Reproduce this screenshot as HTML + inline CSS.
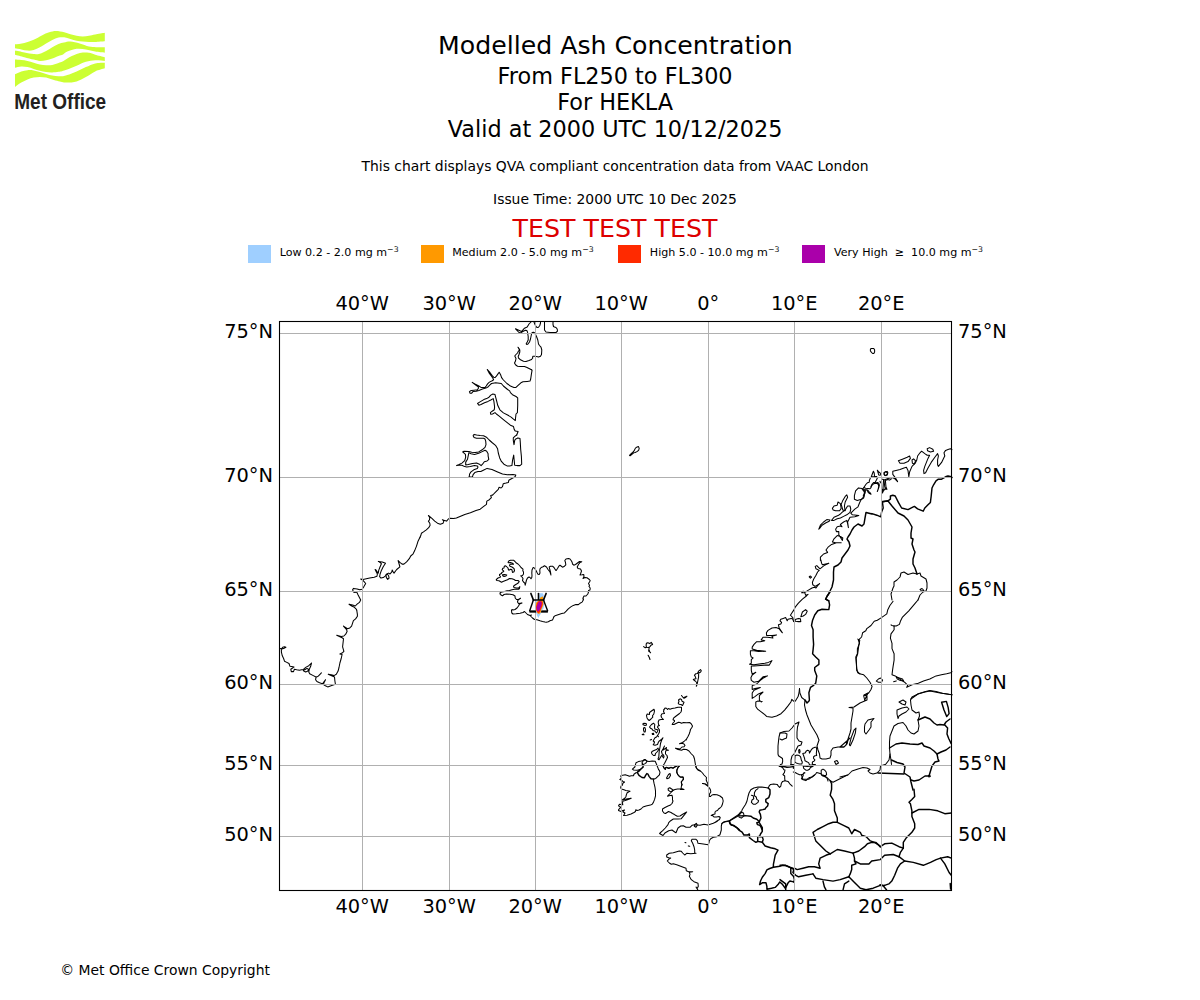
<!DOCTYPE html>
<html><head><meta charset="utf-8">
<style>
html,body{margin:0;padding:0;background:#fff;width:1200px;height:1000px;overflow:hidden}
svg{position:absolute;left:0;top:0;display:block}
text{font-family:"DejaVu Sans","Liberation Sans",sans-serif;fill:#000}
.t1{font-size:25.2px}
.t2{font-size:22.35px}
.t3{font-size:13.9px}
.lg{font-size:11.1px}
.ax{font-size:19.4px}
.grid path{stroke:#b0b0b0;stroke-width:1;fill:none}
.coast .b{stroke-width:1.45}
.coast{fill:none;stroke:#000;stroke-width:1.05;stroke-linejoin:round;stroke-linecap:round}
</style></head><body>
<svg width="1200" height="1000" viewBox="0 0 1200 1000">
<!-- LOGO -->
<g id="logo">
<path fill="#ccff33" d="M15.0,44.3 C16.6,44.1 21.3,43.6 24.4,42.9 C27.5,42.1 30.8,41.0 33.7,39.8 C36.6,38.5 39.2,36.6 41.8,35.4 C44.4,34.1 46.8,33.0 49.2,32.3 C51.6,31.6 53.5,31.0 56.0,31.0 C58.5,31.0 61.8,31.7 64.2,32.2 C66.6,32.7 68.3,33.6 70.4,34.2 C72.5,34.8 74.5,35.4 76.6,35.8 C78.7,36.2 80.7,36.4 82.8,36.4 C84.9,36.4 86.9,36.1 89.0,35.8 C91.1,35.5 92.6,35.0 95.2,34.5 C97.8,34.0 103.2,33.0 104.8,32.7 L104.8,41.3 C103.2,41.4 97.8,41.9 95.2,42.0 C92.6,42.1 91.1,42.1 89.0,42.0 C86.9,41.9 84.9,41.8 82.8,41.6 C80.7,41.4 78.7,41.2 76.6,40.7 C74.5,40.2 72.5,39.5 70.4,38.9 C68.3,38.3 66.2,37.5 64.2,37.3 C62.2,37.1 60.5,37.1 58.5,37.6 C56.5,38.1 54.4,39.1 52.3,40.1 C50.2,41.1 48.2,42.3 46.1,43.5 C44.0,44.7 42.0,46.1 39.9,47.2 C37.8,48.3 35.8,49.4 33.7,50.0 C31.6,50.6 29.6,50.7 27.5,50.6 C25.4,50.5 23.4,49.8 21.3,49.4 C19.2,49.0 16.1,48.4 15.0,48.2 Z M15.0,50.6 C16.6,50.9 21.3,51.9 24.4,52.5 C27.5,53.1 31.1,53.9 33.7,54.1 C36.3,54.3 37.8,54.2 39.9,53.7 C42.0,53.2 44.0,52.1 46.1,51.0 C48.2,49.9 50.2,48.4 52.3,47.2 C54.4,46.0 56.5,44.8 58.5,44.0 C60.5,43.2 62.0,43.0 64.0,42.6 C66.0,42.2 67.8,41.5 70.4,41.6 C73.0,41.8 76.6,42.7 79.7,43.5 C82.8,44.3 86.3,46.0 89.0,46.6 C91.7,47.2 93.4,47.1 96.0,47.2 C98.6,47.3 103.3,47.2 104.8,47.2 L104.8,52.8 C103.2,52.6 98.3,52.2 95.2,51.6 C92.1,51.0 89.0,49.9 85.9,49.4 C82.8,48.9 79.7,48.4 76.6,48.8 C73.5,49.2 69.6,50.6 67.3,51.6 C65.0,52.6 64.5,53.8 63.0,54.5 C61.5,55.2 60.3,55.2 58.5,55.9 C56.7,56.5 54.4,57.7 52.3,58.4 C50.2,59.1 48.2,59.9 46.1,60.3 C44.0,60.7 42.0,61.0 39.9,60.9 C37.8,60.8 36.3,60.2 33.7,59.6 C31.1,59.0 27.5,58.0 24.4,57.2 C21.3,56.4 16.6,55.1 15.0,54.7 Z M15.0,59.6 C16.1,59.7 19.2,59.8 21.3,60.0 C23.4,60.2 25.4,60.4 27.5,60.9 C29.6,61.4 31.6,62.1 33.7,62.7 C35.8,63.3 37.8,64.2 39.9,64.6 C42.0,65.0 44.0,65.2 46.1,65.2 C48.2,65.2 50.2,65.3 52.3,64.9 C54.4,64.5 56.8,63.6 58.5,63.0 C60.2,62.4 61.0,62.3 62.5,61.5 C64.0,60.7 65.0,59.6 67.3,58.4 C69.6,57.2 74.0,55.1 76.6,54.1 C79.2,53.1 80.7,52.7 82.8,52.5 C84.9,52.3 86.9,52.4 89.0,52.8 C91.1,53.2 92.6,54.0 95.2,54.7 C97.8,55.4 103.2,56.8 104.8,57.2 L104.8,60.9 C103.2,60.8 98.3,60.1 95.2,60.3 C92.1,60.4 89.0,60.9 85.9,61.8 C82.8,62.7 79.7,64.5 76.6,65.8 C73.5,67.1 69.7,68.7 67.3,69.6 C64.9,70.5 63.5,70.8 62.0,71.2 C60.5,71.6 60.1,71.5 58.5,71.7 C56.9,71.9 54.4,72.4 52.3,72.4 C50.2,72.5 48.2,72.3 46.1,72.0 C44.0,71.7 42.0,71.3 39.9,70.8 C37.8,70.3 35.8,69.5 33.7,68.9 C31.6,68.3 29.6,67.5 27.5,67.1 C25.4,66.7 23.4,66.4 21.3,66.5 C19.2,66.6 16.1,67.5 15.0,67.7 Z M15.0,74.2 C16.1,73.7 19.2,72.1 21.3,71.4 C23.4,70.7 25.4,70.4 27.5,70.2 C29.6,70.0 31.6,70.2 33.7,70.5 C35.8,70.8 37.8,71.4 39.9,72.0 C42.0,72.6 44.0,73.3 46.1,73.9 C48.2,74.5 50.2,75.1 52.3,75.5 C54.4,75.9 56.7,76.1 58.5,76.2 C60.3,76.3 61.5,76.4 63.0,76.2 C64.5,76.0 65.0,75.9 67.3,75.1 C69.6,74.3 73.5,72.7 76.6,71.4 C79.7,70.1 82.8,68.4 85.9,67.1 C89.0,65.8 92.1,64.1 95.2,63.4 C98.3,62.7 103.2,62.8 104.8,62.7 L104.8,68.3 C103.2,68.8 98.3,70.0 95.2,71.4 C92.1,72.9 89.0,75.3 85.9,77.0 C82.8,78.7 79.7,80.5 76.6,81.4 C73.5,82.3 69.6,82.5 67.3,82.6 C65.0,82.7 64.5,82.4 63.0,82.2 C61.5,82.0 60.3,81.7 58.5,81.2 C56.7,80.8 54.4,80.1 52.3,79.5 C50.2,78.9 48.2,78.0 46.1,77.6 C44.0,77.2 42.0,77.0 39.9,77.0 C37.8,77.0 35.8,77.2 33.7,77.6 C31.6,78.0 29.6,78.7 27.5,79.5 C25.4,80.3 23.4,81.4 21.3,82.6 C19.2,83.8 16.1,86.2 15.0,86.9 Z"/>
<text x="14.2" y="109.4" textLength="92" lengthAdjust="spacingAndGlyphs" style="font-family:'Liberation Sans','DejaVu Sans',sans-serif;font-weight:bold;font-size:21.6px;fill:#231f20">Met Office</text>
</g>
<!-- TITLES -->
<text class="t1" x="615.4" y="53.8" text-anchor="middle">Modelled Ash Concentration</text>
<text class="t2" x="615.1" y="83.5" text-anchor="middle">From FL250 to FL300</text>
<text class="t2" x="615.1" y="110" text-anchor="middle">For HEKLA</text>
<text class="t2" x="615.1" y="136.7" text-anchor="middle">Valid at 2000 UTC 10/12/2025</text>
<text class="t3" x="615" y="171.2" text-anchor="middle">This chart displays QVA compliant concentration data from VAAC London</text>
<text class="t3" x="615" y="204.2" text-anchor="middle">Issue Time: 2000 UTC 10 Dec 2025</text>
<text class="t1" x="615" y="237.3" text-anchor="middle" style="fill:#dd0000;font-size:25.3px">TEST TEST TEST</text>
<!-- LEGEND -->
<rect x="248" y="245" width="23" height="18" fill="#9fcfff"/>
<text class="lg" x="279.7" y="256">Low 0.2 - 2.0 mg m<tspan dy="-4" font-size="7.8">−3</tspan></text>
<rect x="421" y="245" width="23" height="18" fill="#ff9900"/>
<text class="lg" x="452.2" y="256">Medium 2.0 - 5.0 mg m<tspan dy="-4" font-size="7.8">−3</tspan></text>
<rect x="618" y="245" width="23" height="18" fill="#ff2a00"/>
<text class="lg" x="649.8" y="256">High 5.0 - 10.0 mg m<tspan dy="-4" font-size="7.8">−3</tspan></text>
<rect x="802" y="245" width="23" height="18" fill="#aa00aa"/>
<text class="lg" x="834" y="256">Very High&#160; ≥&#160; 10.0 mg m<tspan dy="-4" font-size="7.8">−3</tspan></text>
<!-- MAP -->
<g class="coast" id="coast">
<path d="M864.7,700.0 868.0,693.0 864.0,695.0 867.0,696.0 867.0,700.0 860.0,703.0 854.0,707.0 849.0,707.5 853.0,708.0 853.0,711.0 852.0,717.0 851.0,723.0 851.0,729.0 850.0,733.0 848.0,739.0 846.0,745.0 844.0,747.0 840.0,747.0 848.0,740.0 850.0,738.0"/>
<path d="M849.4,744.8 851.2,737.6 854.2,729.8 856.0,728.0 855.4,732.8 853.0,740.0 850.3,745.8Z"/>
<path d="M865.0,724.0 868.0,720.0 874.0,718.5 871.0,722.0 871.0,727.0 869.0,730.0 866.0,734.0 864.5,732.0 864.5,727.0Z"/>
<path d="M899.0,702.0 903.0,700.0 906.0,702.0 905.0,705.0 902.0,704.0Z"/>
<path d="M897.0,710.0 902.0,708.0 907.0,707.0 909.0,709.0 906.0,712.0 902.0,714.0 899.0,716.0 898.0,718.5 897.0,714.0Z"/>
<path d="M952.0,694.8 940.0,693.0 930.0,691.0 925.0,692.0 918.0,694.0 912.0,697.0 910.5,700.0 911.0,705.0 912.0,710.0 916.0,713.0 919.0,712.0 919.5,716.0 918.0,720.0 919.0,726.0 918.0,731.0 914.0,734.0 911.0,733.0 908.0,730.0 906.0,726.0 903.0,722.5 898.0,723.5 894.0,726.0 892.0,731.0 890.0,736.0 889.5,742.0 889.5,748.0 890.0,754.0 891.0,760.0 891.5,764.5"/>
<path d="M890.0,754.0 889.0,760.0 885.5,764.5"/>
<path class="b" d="M918.0,720.0 925.0,717.0 930.0,719.0 934.0,723.0 937.0,725.0 940.0,724.5 944.0,725.0 946.0,722.0 950.0,719.0"/>
<path class="b" d="M889.5,748.0 896.0,744.0 902.0,743.0 910.0,744.0 918.0,744.5 922.0,743.0 924.0,746.0 930.0,748.0 934.0,751.0 937.0,754.0 941.0,752.0 946.0,750.0 950.0,747.0"/>
<path class="b" d="M937.0,754.0 938.0,759.0 939.0,761.0 935.0,762.0 932.0,766.0 930.5,771.0 929.0,776.0 925.0,776.0 922.0,778.0 919.0,780.0 914.0,781.0 911.0,780.0"/>
<path class="b" d="M891.5,760.0 897.0,762.5 903.0,764.0 905.0,767.0 904.0,773.0 910.0,777.0 911.0,782.0 913.0,790.0"/>
<path class="b" d="M878.0,773.0 904.0,774.0"/>
<path d="M840.0,777.0 848.0,775.0 852.0,771.0 858.0,769.0 863.0,767.5 867.0,768.0 870.0,769.5 868.0,771.0 870.0,773.0 873.0,774.0 877.0,773.0 880.0,770.0 880.5,766.0 885.0,764.5"/>
<path d="M834.5,761.5 837.0,760.5 838.5,763.0 836.0,764.5Z"/>
<path class="b" d="M944.6,724.7 947.6,728.0 947.0,734.0 948.8,738.8 951.2,743.6"/>
<path d="M928.4,775.4 929.9,775.2 930.3,776.6 928.9,777.0Z"/>
<path class="b" d="M941.6,702.2 946.4,701.4 948.2,707.6 949.1,713.6 946.7,716.6 944.0,710.0Z"/>
<path d="M740.0,814.7 738.0,816.0 733.3,818.7 729.3,821.0 724.7,822.0 722.0,823.3 721.3,826.0 721.3,830.0 720.0,834.7 716.7,836.7 713.3,837.3 710.7,838.7 709.3,840.7 709.0,842.7 708.0,844.7 703.3,844.0 698.0,843.3 697.3,840.7 696.0,839.3 692.0,839.3 691.3,840.7 692.7,843.3 694.0,846.7 694.7,850.0 694.7,853.3 696.0,853.3 690.7,853.7 686.7,853.3 684.7,855.0 682.7,853.0 681.3,851.3 679.3,851.0 676.7,851.7 673.3,852.7 669.3,853.3 666.7,855.0 666.7,857.0 668.7,857.7 670.7,858.0 668.7,859.3 667.3,861.0 669.3,863.0 671.3,864.3 673.3,863.7 676.7,864.7 680.0,866.0 683.3,867.3 686.0,868.3 686.3,870.7 688.7,871.7 692.7,871.7 689.3,872.3 690.0,874.3 689.3,876.3 691.3,879.7 694.0,881.7 698.0,883.3 698.3,886.3 697.3,888.3 696.0,887.0 698.0,890.3"/>
<path d="M685.0,842.5 685.9,842.8"/>
<path d="M688.3,845.9 689.7,846.3"/>
<path class="b" d="M729.5,820.8 730.0,823.0 731.0,825.0 734.0,825.5 736.0,827.0 738.0,828.5 739.5,830.0"/>
<path d="M721.5,824.0 723.5,822.0 726.5,821.2 729.5,820.8 732.0,819.0 735.0,817.0 738.0,815.0 739.5,814.0 741.5,812.5 742.0,810.0 743.5,807.5 745.5,804.5 747.0,801.0 748.0,796.5 749.0,793.0 750.8,789.8 753.8,788.0 758.0,787.1 761.6,787.1 765.2,787.4 768.2,788.0 769.4,785.6 770.6,784.4 773.6,784.1 777.2,784.4 778.4,786.2 779.6,787.4 780.8,786.2 781.4,783.2 782.6,781.4 785.0,780.8 784.7,778.4 784.7,776.0 782.9,774.5 784.4,772.7 785.0,770.0 783.9,769.8 782.5,767.5 780.7,766.6 779.4,766.2 780.7,764.4 782.1,763.9 782.7,761.2 782.5,758.5 780.7,757.2 778.5,755.8 778.0,754.0 778.0,746.0 778.5,741.0 779.0,737.0 780.0,733.0 784.0,731.5 789.0,731.0 792.0,728.0 795.0,724.0 799.0,722.0 797.5,727.0 797.0,732.0 797.0,738.0 799.0,741.0 802.0,742.0 801.0,745.0 798.0,746.0 796.0,750.0 794.0,754.0 792.0,756.0 791.0,760.0 791.0,764.0 790.6,764.6 792.9,764.4 793.8,764.8 793.3,766.2 793.8,767.5 793.3,768.4"/>
<path d="M785.0,780.8 788.0,781.4 789.8,783.8 792.2,786.2"/>
<path d="M780.0,733.0 785.0,733.0 787.0,734.0 786.5,738.0 784.0,739.0 782.0,740.0 780.0,739.0"/>
<path d="M795.1,755.8 796.9,755.1 799.2,755.6 800.5,756.7 801.0,758.5 801.4,760.3 802.3,762.1 801.9,763.9 799.6,763.9 797.4,763.5 795.6,762.6 794.7,761.7 794.9,758.5Z"/>
<path d="M798.7,750.0 799.6,749.5 800.1,751.3 799.6,753.1 798.9,752.7Z"/>
<path d="M802.8,753.6 805.0,753.1 806.4,750.9 807.7,750.2 809.1,750.9 809.5,753.1 810.9,750.4 812.7,748.2 814.9,747.3 816.3,747.3 816.7,749.5 816.3,754.0 816.7,755.4 814.9,755.8 813.6,756.7 813.6,758.5 814.9,759.9 814.0,761.2 812.7,761.7 812.2,763.0 812.7,764.4 815.4,764.6 812.2,765.0 809.5,764.8 808.6,762.6 806.8,761.7 805.0,760.8 804.6,758.5 803.7,755.8Z"/>
<path d="M803.2,766.2 803.7,768.4 805.9,770.2 807.7,770.2 809.5,769.3 810.4,767.5 813.1,766.2 809.5,766.2 807.3,766.6 805.0,766.2Z"/>
<path d="M793.3,772.0 795.1,772.5 797.4,773.8 799.6,774.7 801.4,774.7 802.8,774.3 804.1,772.5 805.0,772.9 803.2,773.8 803.2,775.6 802.3,777.4 801.4,778.8 803.2,779.7 805.9,780.6 807.7,778.8 809.5,777.4 812.2,777.0 814.0,775.6 815.8,773.8 816.7,772.5 818.5,772.9 820.8,773.8 822.1,775.6 824.4,776.5 826.6,777.4 827.5,779.2 828.0,781.0"/>
<path d="M821.2,770.2 823.0,769.1 824.8,770.2 826.2,772.0 826.6,774.7 825.3,775.6 822.6,775.6 821.2,773.8Z"/>
<path d="M751.4,795.2 753.2,795.8 753.8,798.8 752.0,800.0 751.4,802.4 753.2,804.2 755.6,804.2 758.0,802.4 758.6,800.6 756.8,799.4 756.2,797.0 754.4,795.8 754.4,792.8 755.6,790.4 758.0,788.6"/>
<path class="b" d="M768.2,788.0 770.0,789.8 770.0,794.0 768.8,797.6 765.8,799.4 765.8,801.8 768.2,803.6 767.6,806.0 765.8,807.8 765.2,809.0 762.8,809.6 759.8,810.2 759.2,812.0 760.4,814.4 761.0,818.0 759.8,820.4 759.2,822.2 756.8,822.8 757.4,824.6 759.8,825.2 761.0,827.0 762.2,830.0"/>
<path class="b" d="M740.0,815.9 745.4,815.6 750.8,816.2 753.2,818.0 756.8,819.2 759.2,821.6"/>
<path class="b" d="M779.4,766.4 782.5,766.6 784.8,766.8 787.0,767.3 789.7,767.1 792.9,766.6 793.8,767.1"/>
<path d="M738.5,814.7 740.7,811.9 743.5,813.0 744.1,815.8 741.3,818.1 739.0,817.0Z"/>
<path d="M823.0,775.0 827.3,777.9 830.2,780.7 833.0,782.2 847.4,775.0"/>
<path class="b" d="M830.2,780.7 831.6,783.6 831.6,789.3 830.2,795.1 833.0,799.4 834.5,803.7 834.5,810.8 837.3,818.0 837.3,822.3"/>
<path class="b" d="M837.3,822.3 833.0,822.3 828.7,823.7 823.0,826.6 817.3,829.5 813.0,832.3 814.4,836.6 815.8,840.9 820.1,845.2 825.9,851.0 830.2,853.8"/>
<path class="b" d="M837.3,822.3 844.5,825.9 848.8,828.0 851.7,833.8 854.5,829.5 860.3,832.3 861.7,835.2 866.0,836.6 870.3,840.9 874.6,842.4 878.9,845.2 880.3,846.7"/>
<path class="b" d="M830.2,853.8 837.3,849.5 844.5,851.0 853.1,853.1"/>
<path class="b" d="M853.1,853.1 858.8,851.0 864.6,846.7 867.4,843.8 871.7,842.4 876.0,842.4 880.3,846.7"/>
<path class="b" d="M880.3,846.7 884.6,843.8 891.8,843.1 899.0,846.7 903.3,848.1"/>
<path class="b" d="M903.3,848.1 903.3,842.4 906.1,838.1 911.9,832.3 914.7,828.0 914.7,823.7 911.9,816.6 911.9,810.8 910.4,803.7 909.0,802.2 911.9,799.4 914.7,796.5 914.0,789.3"/>
<path class="b" d="M911.9,813.0 919.0,809.4 929.1,809.4 937.7,810.8 944.8,813.7 951.3,813.0"/>
<path class="b" d="M854.5,861.0 860.3,863.9 868.9,863.9 871.7,861.0 880.3,859.6 884.6,855.3 893.2,854.5 899.0,856.7"/>
<path class="b" d="M903.3,848.1 900.4,852.4 899.0,856.7"/>
<path class="b" d="M853.1,853.1 854.5,858.1 854.5,861.0 856.0,863.9 851.7,865.3 851.7,869.6 850.2,873.9 848.8,876.8"/>
<path class="b" d="M899.0,856.7 904.7,861.0 900.4,863.9 897.5,868.2 894.7,875.3 891.8,881.1 888.9,883.9 884.6,885.4"/>
<path class="b" d="M904.7,861.0 913.3,862.4 923.3,865.3 930.5,862.4 936.2,859.6 940.5,858.1 947.7,856.7 951.3,858.1"/>
<path class="b" d="M940.5,858.1 944.8,863.9 949.1,872.5 951.3,875.3"/>
<path class="b" d="M830.2,853.8 825.9,855.3 820.1,858.1 818.7,863.9 820.1,868.2 814.4,866.7 808.7,866.7 802.9,868.2 797.2,869.6 794.3,868.2"/>
<path class="b" d="M813.0,873.9 815.8,878.2 823.0,879.6 833.0,881.1 840.2,879.6 848.8,876.8"/>
<path class="b" d="M794.3,868.2 792.9,872.5 795.8,875.3 798.6,876.8 805.8,875.3 813.0,873.9"/>
<path class="b" d="M823.0,881.1 824.4,886.8 825.9,889.7"/>
<path class="b" d="M848.8,876.8 854.5,882.5 860.3,888.2 866.0,889.7"/>
<path class="b" d="M866.0,889.7 873.2,888.2 880.3,885.4 884.6,885.4"/>
<path class="b" d="M843.1,889.7 844.5,883.9 848.8,881.1"/>
<path class="b" d="M780.0,865.3 785.7,865.3 791.5,868.2 794.3,868.9"/>
<path class="b" d="M780.0,879.6 785.7,883.9 785.7,889.7"/>
<path d="M801.5,775.0 802.9,779.3 808.7,779.3 814.4,775.0"/>
<path class="b" d="M880.0,884.8 882.9,885.5 886.5,889.8"/>
<path class="b" d="M950.2,883.4 950.6,889.1"/>
<path class="b" d="M729.2,821.2 730.1,823.9 733.8,825.8 736.6,827.6 739.3,830.4 742.1,832.2 743.9,835.0 747.6,835.0 749.4,834.0 749.4,837.7 753.1,840.5 755.9,842.3 757.7,841.4 762.3,842.3 765.1,846.0 770.6,847.8 775.2,848.8 778.0,850.1 775.2,855.2 774.3,859.8 773.4,864.4 773.4,867.2"/>
<path class="b" d="M759.6,823.0 762.3,827.6 762.3,831.3 760.5,834.0 759.6,836.3 757.7,836.8 757.7,841.4"/>
<path class="b" d="M759.6,836.8 762.3,836.8 763.2,839.6 762.3,842.3"/>
<path class="b" d="M773.4,867.2 779.8,866.2 782.6,865.3 786.2,865.8 789.9,867.2 792.7,868.1 793.6,869.9"/>
<path class="b" d="M773.4,867.2 769.7,868.5 766.9,869.9 765.1,873.6 762.3,877.3 760.5,881.0 759.6,884.6 762.3,882.8 766.0,882.8 766.9,886.5 766.9,889.2 771.5,888.3 775.2,887.4 778.0,884.6 779.8,881.9 782.6,884.6 785.3,888.3 788.1,882.8 789.9,881.0 793.6,881.9"/>
<path class="b" d="M790.8,868.1 790.8,873.6 793.6,876.4 794.5,880.0 793.6,881.9"/>
<path d="M531.0,322.0 529.0,324.0 527.2,327.0 524.5,328.2 523.0,329.8 521.5,331.5 515.5,328.8 519.0,332.5 520.5,333.0 522.0,332.0 523.8,331.0 525.5,330.2 526.8,330.5 527.5,332.0 527.8,334.0 528.2,336.5 528.2,340.0 527.2,342.0 526.2,343.8 526.8,344.5 528.0,344.0 529.5,342.0 530.5,339.0 531.0,336.5 531.5,334.0 532.2,332.5 533.5,332.2 534.5,332.8 535.8,335.0 536.5,336.5 537.8,340.0 538.5,344.0 539.5,345.5 541.0,347.2 541.8,350.0 541.5,354.5 540.5,356.2 538.5,357.0 536.5,356.5 535.0,356.2 533.2,356.2 532.5,357.0 532.8,358.0 531.5,359.5 529.0,360.5 526.0,361.5 523.5,361.2 520.5,359.8 518.5,358.0 518.2,356.5 519.0,354.5 519.8,352.0 519.8,350.0 519.0,348.5 518.0,347.2 519.5,350.0 518.5,351.0 517.5,353.0 515.5,355.0 514.8,356.0 516.0,358.5 515.5,361.0 514.5,363.0 515.5,364.8 517.5,366.2 520.0,366.5 524.5,366.5 527.0,367.5 530.0,369.0 531.5,369.8"/>
<path d="M534.0,322.0 535.0,324.5 536.0,326.5 537.2,327.5 538.5,327.2 539.8,325.5 540.5,323.0 540.5,322.0"/>
<path d="M544.5,322.0 544.5,330.0 546.0,332.0 550.0,332.5 556.0,332.5 557.5,331.2 557.2,329.0 556.0,327.5 554.5,327.0 553.5,326.5 553.0,324.5 553.0,322.0"/>
<path d="M531.4,369.8 532.1,370.2 531.4,374.1 530.7,379.0 530.0,381.1 527.2,381.4 523.0,381.8 520.9,382.8 518.1,385.3 516.0,387.4 513.9,387.4 510.4,386.0 506.9,383.5 503.4,380.0 501.6,377.6 500.6,374.8 499.2,372.3 497.8,374.1 496.4,376.2 495.0,377.6 493.6,377.2 492.2,375.5 490.1,372.7 487.3,369.5 489.4,373.4 491.5,376.2 492.9,378.3 493.6,379.7 492.2,380.7 489.4,382.1 487.6,383.9 486.2,386.0 485.2,387.4 482.4,387.5 481.0,387.4 478.9,386.0 475.4,384.2 472.2,382.4 476.1,385.3 478.2,386.7 478.5,388.1 477.5,389.8 474.0,390.2 471.2,390.5 469.4,391.6 470.1,393.3 471.5,393.3 472.9,391.6 476.1,391.2 478.9,390.5 482.4,389.1 485.9,388.1 488.0,387.0 489.4,385.3 491.5,383.5 495.7,382.8 501.3,383.5 503.4,386.0 507.6,389.5 509.7,390.9 510.4,392.6 512.5,394.7 516.0,396.5 517.7,397.9 517.7,405.6 517.4,412.6 516.0,414.0 515.6,417.5 515.3,420.6 513.2,418.9 511.1,417.1 507.6,415.0 503.4,412.9 499.9,409.8 497.8,405.6 496.4,400.0 495.3,395.8 495.0,394.4 492.9,394.0 490.8,395.1 489.0,397.2 486.6,398.6 483.8,399.6 479.6,402.1 477.5,403.5 478.9,405.2 481.0,404.5 484.5,402.8 488.0,401.4 490.8,400.0 493.2,398.6 493.9,401.4 494.6,407.0 494.3,409.8 492.2,411.2 490.4,412.6 490.8,414.3 492.5,414.0 495.0,412.6 496.4,414.0 499.2,416.1 503.4,419.6 506.9,422.4 510.4,425.2 513.5,426.6 514.2,429.4 515.3,431.1 518.1,431.5 517.4,433.2 516.7,435.0"/>
<path d="M516.7,435.0 515.1,436.2 513.3,437.9 513.3,440.4 514.0,444.6 514.7,440.4 515.4,439.3 517.9,437.9 520.0,438.6 520.3,442.5 520.7,449.5 521.4,456.5 521.7,464.2 520.0,465.6 517.2,465.6 514.7,465.2 514.0,458.6 513.7,455.1 512.6,460.0 511.9,465.6 509.5,465.9 507.0,465.9 503.9,464.2 501.4,461.4 499.7,457.9 498.3,453.0 497.6,448.8 495.5,445.3 492.0,442.5 489.2,440.0 486.4,437.2 483.6,435.8 480.1,435.5 476.6,435.1 474.1,434.4 473.1,435.8 474.1,437.6 476.6,438.3 480.1,438.3 483.6,438.3 485.0,439.0 485.7,441.1 486.0,444.6 485.0,447.4 482.2,449.8 478.7,451.9 475.2,452.6 471.7,452.3 468.9,451.6 464.0,451.2 462.6,451.9 464.0,453.0 465.4,454.4 465.7,457.2 464.7,460.7 461.9,463.1 459.1,464.5 456.6,465.6 459.1,465.2 461.9,465.2 464.7,466.6 466.8,467.0 470.3,466.6 474.5,465.6 477.3,465.9 478.0,467.0 477.3,468.4 473.8,469.8 471.0,471.9 469.6,474.0 469.2,477.1"/>
<path d="M468.9,452.6 471.0,453.7 474.5,454.4 478.7,453.3 482.2,451.6 485.0,450.2 486.7,451.2 488.1,453.7 488.1,455.8 488.8,459.3 487.1,461.0 484.3,461.7 482.5,464.2 481.1,465.6 479.4,464.2 476.6,463.1 472.4,463.5 468.2,464.5 465.7,464.9 465.7,462.1 467.5,459.3 468.2,455.8Z"/>
<path d="M472.4,477.1 473.1,474.7 474.8,472.6 478.0,471.5 480.8,471.5 484.3,469.8 487.1,468.4 492.0,469.4 497.6,471.9 502.5,474.0 507.4,474.7 513.0,474.5 515.8,475.0 515.1,476.8 512.3,478.2 508.8,480.3 508.4,482.4 506.0,483.1 503.2,483.8 502.5,486.6 501.1,488.0 499.0,487.3 498.3,489.4 495.5,492.2 492.7,495.0"/>
<path d="M492.7,495.0 490.7,495.5 491.4,497.6 489.3,499.7 486.8,501.1 486.5,504.3 483.7,506.4 480.2,509.2 476.0,510.6 470.4,512.7 464.8,514.4 460.6,516.2 456.4,517.9 453.6,518.6 450.1,518.3 448.3,519.0 446.6,521.1 444.5,520.4 442.4,519.7 443.8,521.1 443.1,523.2 440.3,524.2 437.5,523.2 434.7,521.1 431.9,518.3 428.4,515.5 429.8,517.6 429.4,520.0 428.4,521.1 429.8,523.2 430.1,525.3 428.7,527.7 426.3,529.8 423.5,531.9 421.4,533.3 420.7,535.8 420.0,537.2"/>
<path d="M469.0,477.0 472.1,477.0"/>
<path d="M420.0,537.2 417.9,541.6 416.5,546.1 414.7,550.6 412.9,554.2 410.7,556.0 409.3,558.7 406.6,561.9 403.9,564.1 402.1,564.1 399.9,562.3 398.1,560.5 399.4,565.0 399.9,566.8 396.7,569.5 394.0,573.1 393.1,571.8 392.2,570.0 391.8,571.8 390.0,574.0 388.6,573.1 386.8,574.0 385.5,575.8 383.2,577.6 381.0,578.1 379.6,576.7 380.1,574.0 381.4,570.4 383.2,566.8 385.5,563.2 382.3,561.9 378.3,561.4 381.4,563.7 380.1,566.8 378.7,570.4 378.3,573.1 377.4,572.2 376.0,570.0 375.1,569.5 376.5,572.2 377.4,574.0 376.9,576.3 374.2,577.2 369.7,578.1 365.2,579.0 363.0,579.4 360.7,579.0 363.0,580.3 365.7,583.5 363.9,586.6 362.1,589.3 359.8,589.8 357.1,588.9 353.5,588.4 352.6,589.8 353.5,592.0 354.9,592.5 356.7,592.0 358.0,594.7 359.4,597.4 360.7,600.1 359.4,602.4 357.1,604.2 355.3,606.0 352.6,605.1 349.0,604.2 351.7,606.0 354.4,607.3 356.2,609.1 356.7,610.0"/>
<path d="M385.9,574.9 386.4,577.6 387.7,579.4 389.1,578.1 388.6,575.8 387.3,574.0Z"/>
<path d="M356.7,610.0 357.4,614.4 357.4,616.2 355.6,618.9 353.4,620.7 352.5,623.4 351.6,626.1 349.8,627.9 347.5,628.8 343.5,626.1 346.6,629.7 347.1,631.5 345.7,634.2 343.9,636.0 341.2,636.5 336.7,635.3 342.1,637.8 343.5,638.7 343.0,643.2 342.6,646.8 343.9,651.3 342.1,653.1 339.9,654.0 342.1,654.5 341.2,658.5 339.9,663.0 339.0,667.5 338.1,671.1 336.3,674.3 334.0,675.6 331.3,674.7 328.2,674.3 332.2,676.1 334.5,677.0 334.9,681.0 335.4,684.2 333.1,685.1 330.4,686.0 327.7,686.9 325.9,686.0 324.1,685.1 323.7,683.3 325.5,679.7 323.2,682.8 322.3,683.7 319.6,682.8 316.9,681.5 315.6,679.7 316.0,677.4 318.3,676.1 321.4,672.9 317.8,676.5 316.0,677.0 313.3,675.6 309.7,673.8 308.8,672.0 309.3,669.3 310.6,666.6 311.5,663.0 308.8,665.7 306.1,667.1 303.9,668.9 303.4,670.7 305.7,672.0 307.9,671.1 308.4,669.3 307.0,668.4 304.8,669.8 301.6,669.8 299.4,670.2 296.7,669.8 294.4,669.3 293.5,671.6 291.3,671.6 290.8,669.3 292.6,668.0 294.0,667.1 291.7,666.6 289.9,666.2 289.0,663.5 286.3,662.1 284.5,661.2 283.6,658.5 282.3,655.8 281.4,652.2 281.4,649.1 282.7,647.3 284.5,646.8 285.9,647.3 283.6,648.6 281.8,649.1 280.0,648.6"/>
<path d="M508.0,562.2 509.0,560.8 510.5,560.2 513.5,560.2 515.0,561.5 516.0,562.8 518.0,564.0 519.5,565.5 521.0,567.5 523.0,569.2 522.8,570.8 523.5,572.0 523.5,574.0 522.5,575.5 520.8,575.8 522.0,577.0 523.0,578.5 522.5,580.5 523.5,582.0 524.8,583.2 525.2,585.2 526.0,582.0 526.5,580.0 527.5,578.0 529.0,577.0 530.0,577.5 531.0,578.8 531.8,577.5 532.0,575.5 531.8,573.0 532.0,570.0 533.0,567.8 533.8,567.5 534.8,568.5 536.0,570.5 537.0,572.5 538.0,574.2 539.2,574.5 540.0,573.0 539.8,570.5 540.0,568.8 541.2,567.5 543.0,566.8 544.5,565.8 546.5,567.0 548.0,569.5 550.0,572.0 551.0,575.0 550.5,572.0 549.8,569.5 549.2,567.0 550.5,566.2 552.5,566.2 554.0,567.5 555.5,570.0 556.2,570.5 557.5,568.5 559.0,566.0 560.0,565.2 561.0,566.0 562.5,567.2 564.5,566.2 565.8,564.8 565.5,562.5 564.8,560.5 566.0,559.0 568.5,558.5 570.0,559.0 571.5,561.0 572.2,562.5 572.5,564.0 573.8,565.2 575.5,564.5 577.5,563.0 579.5,561.5 581.8,561.8 580.0,562.5 578.5,564.5 577.2,567.0 578.0,568.5 580.5,569.0 581.5,571.0 580.5,574.0 580.0,575.0 582.0,574.8 583.8,574.5 584.0,576.5 583.0,578.5 585.0,577.5 587.0,577.8 589.0,579.2 590.2,580.5 589.5,582.0 588.5,583.5 589.5,585.2 589.0,586.5 590.2,588.0 590.0,590.0 588.5,590.5 588.5,592.0 587.8,594.0 586.0,596.0 584.0,596.0 583.0,598.0 583.5,599.5 582.9,598.3 583.3,600.0 582.1,602.1 580.0,603.3 578.3,604.6 575.8,604.6 573.3,605.4 570.8,606.9 568.3,608.8 566.2,611.2 564.2,613.1 561.7,613.5 558.8,614.4 555.8,615.4 554.0,616.5 553.3,618.3 552.5,620.0 550.8,620.4 550.0,620.8 548.3,621.7 546.2,622.3 545.0,622.1 542.5,621.5 540.0,620.8 537.0,619.8 534.5,619.5 532.5,618.0 530.5,616.0 531.5,615.0 530.0,615.5 527.5,614.5 525.5,612.5 524.5,611.5 523.0,612.5 520.0,613.2 516.0,613.8 513.0,614.0 511.8,613.0 511.5,610.5 512.0,609.5 513.0,610.0 515.0,609.5 517.0,608.0 518.5,606.0 519.5,604.0 522.0,603.0 518.5,603.5 517.5,602.0 518.0,600.0 520.5,598.2 518.5,599.5 516.5,599.5 515.2,598.0 515.0,596.0 513.0,594.8 510.0,594.2 506.5,594.0 504.0,594.5 502.5,595.8 501.0,595.0 500.0,593.2 500.0,594.0 500.2,592.5 502.0,592.0 504.5,591.5 507.0,590.8 509.5,590.5 512.0,589.8 514.5,589.2 516.5,589.2 518.5,589.2 519.5,588.5 519.8,586.5 519.5,587.0 518.5,588.0 516.5,588.0 514.0,587.5 513.5,586.2 515.0,585.0 517.0,583.8 518.5,582.8 519.2,581.5 518.0,580.5 515.5,580.5 514.0,579.5 512.0,578.8 509.5,578.5 507.5,579.8 505.5,580.5 503.0,581.5 501.5,582.2 499.0,580.8 497.0,580.5 496.2,579.8 497.0,578.8 498.5,577.8 500.0,577.5 500.5,576.5 499.5,575.5 499.5,574.5 500.5,574.0 501.5,573.5 501.8,572.5 503.0,572.0 503.8,571.2 503.0,570.5 502.2,569.5 502.8,568.2 504.0,568.0 504.2,566.5 505.2,565.8 506.5,566.5 508.0,568.0 508.5,570.0 509.5,570.0 510.5,569.2 511.8,569.5 512.2,571.0 512.5,572.5 514.0,571.8 514.5,570.5 514.0,568.5 512.0,567.0 510.0,566.2 509.5,565.2 510.5,564.2 512.0,564.2 513.5,564.2 512.5,563.2 510.5,562.5 508.5,562.8 508.0,562.2Z"/>
<path d="M502.5,574.8 504.5,574.5 506.8,575.0 506.0,576.0 504.0,576.5 502.8,575.8Z"/>
<path d="M799.5,688.5 799.0,693.0 798.1,696.6 795.4,701.1 793.6,701.1 791.8,699.3 790.9,702.0 788.2,705.6 784.6,710.1 781.0,713.7 776.5,716.0 772.0,717.3 766.6,716.4 764.8,714.6 761.2,711.9 757.6,709.2 755.8,706.5 755.8,702.0 757.6,701.1 762.1,701.6 761.2,702.0 759.4,700.2 759.4,695.7 763.0,692.1 758.5,693.9 754.9,696.6 752.2,698.4 752.2,693.0 754.0,690.3 760.3,687.6 754.9,688.5 752.2,689.4 752.2,685.8 754.0,684.9 756.7,684.0 760.3,680.4 763.9,677.7 767.5,675.9 763.0,676.8 758.5,681.3 754.0,682.2 751.3,680.4 750.9,677.7 752.2,675.0 755.8,672.3 752.2,674.1 751.3,670.5 751.3,666.0 754.0,666.0 765.7,665.1 769.3,665.1 772.0,660.6 768.4,662.4 764.8,663.3 754.0,664.7 749.5,664.2 751.3,663.3 751.3,659.7 753.1,657.9 751.3,657.0 750.4,654.3 750.4,650.7 754.0,650.7 758.5,651.6 765.7,651.2 756.7,650.3 752.2,648.9 752.2,647.1 754.0,644.4 756.7,641.7 760.3,641.7 764.8,640.8 761.2,639.9 763.0,637.2 767.5,637.2 772.9,638.1 772.0,636.3 776.5,635.0 772.0,635.4 766.6,635.4 766.4,632.8 768.0,630.4 772.0,628.0 776.0,627.6 779.2,628.8 782.4,632.8 779.2,628.0 778.4,624.8 780.8,624.0 781.6,622.4 780.0,620.8 780.8,619.2 783.2,618.4 785.6,617.6 787.2,620.8 788.0,619.2 791.2,618.4 792.8,619.2 793.6,621.6 792.8,617.6 791.2,616.0 790.4,615.2 792.0,612.8 793.6,610.4 795.2,607.2 798.4,603.2 802.4,599.2 806.4,596.0 808.0,594.4 805.6,595.2 804.8,592.8 801.6,592.8 803.2,591.2 805.6,592.0 808.0,590.4 812.0,588.0 814.4,587.2 816.0,588.0 817.6,585.6 819.6,583.6 815.2,586.4 812.8,584.8 812.4,582.4 813.6,579.2 816.0,575.2 817.6,572.0 819.2,570.4 816.0,568.8 815.2,566.4 816.8,565.6 820.0,568.8 824.0,565.6 828.8,563.2 822.4,564.8 821.6,563.2 820.8,560.0"/>
<path d="M809.2,576.8 810.4,576.0 811.6,577.2 810.4,578.2Z"/>
<path d="M802.4,612.0 805.6,609.6 807.2,611.2 805.6,614.4 803.2,616.0 800.8,616.8Z"/>
<path d="M795.2,619.6 798.4,618.4 800.4,618.8 800.8,621.6 797.6,621.6 795.2,621.2Z"/>
<path class="b" d="M830.0,592.0 827.2,596.0 825.6,599.2 828.8,600.8 829.6,604.8 828.8,609.6 822.0,609.2 817.8,610.8 814.7,615.0 812.6,620.2 811.5,625.5 813.1,629.7 813.1,637.0 813.6,644.4 813.1,649.6 812.6,653.8 815.7,657.0 818.9,660.1 818.9,664.3 814.7,667.5 814.7,670.6 816.8,675.9 815.7,683.2 813.6,685.3 810.5,687.4 808.9,692.7 809.4,700.0 809.0,701.0 807.0,703.0 805.0,700.0"/>
<path d="M820.8,560.0 820.4,560.4 820.4,557.2 821.2,556.4 823.6,554.0 827.6,552.4 826.0,550.0 828.4,546.8 831.6,544.4 836.4,542.8 841.2,542.8 835.6,542.8 832.4,542.0 834.0,538.8 837.2,535.6 840.4,536.4 842.8,538.0 842.4,540.4 838.8,534.8 838.8,531.6 836.4,531.6 835.6,529.2 837.2,526.8 840.4,526.0 842.0,526.8 840.4,524.4 843.6,522.0 846.8,520.4 847.6,523.6 848.4,527.6 847.6,522.0 850.0,517.2 854.8,516.8 858.8,515.6 852.4,514.8 850.8,513.2 854.8,509.2 858.0,506.8 859.6,502.8 861.2,499.6 863.6,498.0 864.4,494.8 865.2,491.6 866.0,490.0"/>
<path d="M818.8,529.2 820.4,525.2 823.6,522.0 826.8,519.6 830.0,520.0 829.2,521.2 826.0,522.8 822.0,525.2 819.6,528.4Z"/>
<path d="M831.6,520.4 834.0,517.2 838.0,515.6 840.4,514.0 842.0,512.4 845.2,510.0 847.6,506.0 850.0,506.0 850.8,509.2 850.0,512.4 846.8,514.8 843.6,516.4 840.4,518.0 837.2,518.8 834.0,520.4Z"/>
<path d="M832.4,508.4 834.0,506.0 837.2,505.2 838.0,502.0 840.4,503.6 841.2,508.4 839.6,510.8 835.6,510.8 833.2,510.0Z"/>
<path d="M841.2,504.4 842.8,500.4 845.2,496.4 846.8,494.8 847.6,497.2 845.2,502.0 844.4,506.0 845.2,510.8 842.8,510.0Z"/>
<path d="M881.6,492.8 882.4,489.6 886.4,488.8 884.8,487.2 884.0,480.0 888.0,478.4 892.0,477.6 894.4,478.4 897.6,481.6 895.2,477.6 892.8,474.4 892.8,471.2 896.0,470.4 900.0,469.6 904.0,468.0 906.4,467.2 908.0,470.4 908.8,476.8 909.6,472.0 912.0,466.4 915.2,463.2 916.8,460.0 917.6,456.0 920.0,452.8 921.6,451.2 924.8,453.6 927.2,455.2 929.6,455.2 928.0,458.4 926.4,462.4 924.8,466.4 923.6,470.4 924.0,473.6 925.6,472.8 928.0,468.0 931.2,462.4 935.2,456.8 937.6,453.6 938.4,456.0 937.6,460.0 937.6,464.8 938.4,466.4 941.6,462.4 944.0,457.6 944.8,456.0 944.0,452.8 945.6,450.4 948.0,449.6 950.4,448.8 952.0,449.6"/>
<path d="M898.4,460.8 902.4,459.2 907.2,457.2 909.6,456.0 910.4,458.4 908.0,461.6 904.0,463.2 900.0,463.2Z"/>
<path d="M912.0,460.0 913.6,458.8 915.6,460.8 914.4,464.0 912.4,463.2Z"/>
<path d="M927.2,448.8 929.6,447.6 932.8,449.2 933.6,451.2 930.4,452.0 927.6,450.8Z"/>
<path d="M884.0,472.8 886.0,471.6 887.6,473.2 886.4,475.2 884.4,475.2Z"/>
<path class="b" d="M882.0,502.0 888.0,500.8 890.4,499.2 890.4,496.0 892.8,495.2 895.2,496.0 898.4,502.4 901.6,508.0 908.0,509.6 912.8,507.2 914.4,506.4 917.6,508.8 923.2,511.2 924.8,508.0 928.0,504.8 930.4,502.4 931.2,496.0 932.0,488.0 933.6,484.8 936.0,480.8 938.4,479.2 941.6,479.2 945.6,476.8 948.0,476.0 951.2,476.8 952.0,477.6"/>
<path class="b" d="M882.4,502.0 883.2,508.0 881.6,512.0 880.8,516.8 876.8,515.2 872.0,513.6 872.0,514.0 866.0,512.5 865.0,518.0 864.0,524.0 862.0,526.0 858.0,524.0 854.0,527.0 852.0,530.0 850.0,534.0 848.0,537.0 847.0,539.0 849.0,542.0 850.0,546.0 848.0,550.0 845.0,554.0 842.0,558.0 841.0,562.0 838.0,565.0 834.0,567.0 833.5,572.0 833.5,580.0 832.0,587.0 830.0,591.0 828.0,595.0 827.2,596.0 825.6,599.2 828.8,600.8"/>
<path class="b" d="M882.5,501.5 888.0,501.0 892.0,506.0 898.0,513.0 904.0,516.0 908.0,520.0 912.0,527.0 911.0,533.0 911.0,538.0 913.0,539.0 912.0,544.0 914.0,550.0 915.0,552.0 913.0,559.0 913.0,564.0 915.0,568.0 917.0,574.0"/>
<path d="M917.0,574.0 913.0,573.0 908.0,574.5 904.0,572.0 901.0,573.0 900.0,577.0 897.0,580.0 894.0,582.0 894.0,586.0 893.0,588.0 891.0,594.0 892.0,600.0"/>
<path d="M917.0,574.0 920.0,573.0 921.0,576.0 926.0,579.0 927.0,583.0 927.0,588.0 926.0,591.0 923.0,592.0 920.0,595.0 918.0,600.0"/>
<path d="M920.0,589.5 922.0,588.5 924.0,590.5 921.5,591.0Z"/>
<path d="M893.1,601.3 889.9,605.5 887.8,609.7 886.8,613.9 881.5,617.6 877.3,620.2 874.2,621.3 871.0,625.5 866.8,628.6 865.8,630.7 862.6,632.8 861.6,637.0 858.4,640.2 859.5,643.3 857.4,648.6 857.4,653.8 855.8,657.0 856.3,663.3 856.8,670.6 859.5,673.8 863.7,674.8 866.8,678.0 870.0,682.2 872.1,686.4 871.0,689.5 868.9,692.7 865.8,694.8 863.7,695.8 864.7,700.0"/>
<path d="M918.0,600.0 915.1,603.4 908.8,610.8 902.5,617.1 900.4,621.3 899.4,624.4 896.2,626.0 892.0,625.5 891.0,624.9 894.1,626.5 894.1,629.7 891.0,633.9 890.4,638.1 892.0,643.3 892.0,648.6 894.1,653.8 894.1,660.1 893.1,666.4 892.5,670.6 892.0,674.8 895.2,675.9 898.3,678.0 901.5,680.1 904.6,682.2 907.8,685.3 906.7,687.4 912.0,684.8 918.3,683.2 923.5,681.1 929.8,679.0 936.1,675.9 941.4,674.8 946.6,673.8 950.8,672.7 952.0,671.7"/>
<path d="M876.3,681.1 878.4,679.0 880.5,678.0 882.6,680.1 881.5,682.2 878.4,682.2Z"/>
<path d="M896.2,676.9 899.4,678.0 902.5,679.0 903.6,681.1 900.4,680.6 897.3,679.0Z"/>
<path d="M893.6,681.7 896.2,680.9"/>
<path d="M910.9,699.0 918.3,693.7 925.6,691.6 929.8,690.6 936.1,691.6 942.4,693.2 948.7,694.3 952.0,694.8"/>
<path d="M799.5,688.5 799.9,693.0 801.7,697.5 805.0,700.2 805.0,700.0 804.5,705.0 805.5,710.0 807.0,715.0 809.0,720.0 811.0,725.0 814.0,730.0 817.0,735.0 819.0,740.0 818.0,743.0 817.0,746.0 818.0,750.0 819.5,754.0 820.0,758.0 822.0,759.0 826.0,759.0 830.0,758.0 831.0,755.0 831.0,751.0 833.0,748.0 838.0,747.0 844.0,747.0 847.0,744.0 848.0,740.0 850.0,738.0"/>
<path d="M857.7,639.1 859.8,640.2 858.8,645.4 857.7,653.8 856.2,658.0 856.7,668.5 857.7,672.7 860.0,673.8"/>
<path d="M871.3,476.7 872.4,473.8 873.4,471.3 874.2,472.9 874.5,476.2 876.9,476.5Z"/>
<path d="M877.3,470.2 878.8,472.0 880.3,473.2 880.8,474.4 880.0,475.3 878.8,475.0 878.2,473.2Z"/>
<path d="M884.2,472.9 885.4,471.7 887.2,471.4 887.8,472.6 887.2,475.0 885.4,475.6 884.2,474.7Z"/>
<path d="M870.3,478.3 869.4,480.4 869.2,482.2 867.4,482.8 866.2,484.0 865.0,485.8 863.8,487.6 862.9,488.8 862.0,489.0"/>
<path d="M863.8,487.6 865.6,488.2 868.0,488.5 869.8,488.8 871.0,487.6 871.3,485.8 872.2,484.0 873.4,482.8 874.6,482.5 875.2,482.2 876.4,480.1 877.3,478.3"/>
<path d="M873.4,482.8 874.6,482.5 876.1,482.7 877.6,482.5 878.8,483.4 879.4,485.2 878.8,487.6 877.9,490.0 877.3,491.5 878.2,488.8 878.7,486.4 878.4,484.6 877.0,483.4 874.9,483.4 872.5,484.6 871.0,486.7"/>
<path d="M880.0,481.3 880.5,482.8"/>
<path d="M882.4,479.2 883.6,479.5 883.3,484.0 883.0,488.5 882.7,490.0 882.4,493.0 883.6,490.6 884.8,489.4 886.0,488.8 886.9,489.4 886.6,488.5 886.0,487.0 885.7,484.0 885.4,480.4 887.5,479.5 889.6,480.1 891.4,478.9"/>
<path d="M867.1,490.0 868.0,492.1 869.5,493.6 871.0,494.2 870.4,493.0 868.9,491.5 867.7,490.0 865.9,489.7 864.4,489.7 862.9,490.0"/>
<path d="M863.8,489.4 864.7,491.2 865.0,493.0 863.8,494.8 863.2,496.0"/>
<path d="M854.4,495.6 855.6,490.9 858.5,487.9 862.1,488.5 864.4,492.1 863.8,496.8 861.5,499.2 857.3,500.4 854.4,499.2Z"/>
<path d="M629.5,455.4 631.2,453.6 633.4,451.7 634.5,450.1 635.4,448.1 636.5,447.3 638.5,446.6 639.2,448.4 638.7,450.1 637.4,451.4 635.2,452.5 633.7,452.8 631.9,454.3 630.1,455.8Z"/>
<path d="M870.4,349.4 871.2,348.4 873.6,348.4 874.6,349.7 874.6,351.9 873.8,353.4 872.6,353.5 871.5,352.4 870.4,351.0Z"/>
<path d="M646.4,643.3 647.8,642.7 649.8,643.6 651.2,642.4 652.6,644.4 650.9,645.2 650.0,646.6 648.6,647.5 646.4,647.2 646.1,645.2Z"/>
<path d="M643.6,646.6 645.3,647.8 646.4,647.2"/>
<path d="M649.2,647.5 648.9,649.4 648.6,651.1 650.0,652.2 650.6,652.8 649.8,651.7 649.1,650.0"/>
<path d="M648.1,655.3 649.2,657.3 650.0,659.5 649.5,657.8 648.5,656.0Z"/>
<path d="M700.5,669.6 701.3,670.7 700.5,672.3 699.0,672.6 698.6,674.5 698.6,677.2 697.9,680.3 697.5,682.5 697.1,684.1 696.7,685.6 696.3,686.3 696.7,684.4 696.7,682.5 695.2,681.0 693.3,679.5 694.4,679.1 696.0,678.7 695.2,676.4 694.4,675.3 695.6,673.8 697.5,673.4 698.6,671.1Z"/>
<path d="M681.5,695.5 683.5,698.0 685.0,697.0 687.0,696.2 685.5,697.5 684.0,698.2"/>
<path d="M678.5,700.0 680.0,698.8 681.5,699.5 682.0,701.2 684.0,702.2 683.0,704.5 682.5,705.5 681.0,704.5 679.0,704.2 678.2,703.2 679.0,701.5Z"/>
<path d="M664.0,709.5 665.0,708.0 666.5,708.2 667.5,709.5 668.5,708.5 670.0,709.2 672.0,708.5 675.0,708.0 678.0,707.2 681.5,707.2 681.5,710.0 681.0,712.0 679.5,713.5 677.5,715.0 675.5,716.5 673.5,718.2 673.0,719.8 674.5,720.5 674.5,721.5 673.0,723.0 672.2,724.5 674.0,724.5 676.0,723.5 678.5,722.2 680.0,722.5 681.5,723.2 683.5,722.5 686.5,722.8 689.5,722.5 691.0,723.5 692.5,726.0 692.0,727.2 690.5,729.5 690.0,731.5 689.2,734.0 688.0,736.5 686.8,738.5 686.2,740.0 686.0,739.5 684.0,741.5 682.5,742.5 679.5,743.8 682.0,743.2 684.0,744.0 685.0,745.5 684.0,746.8 682.0,747.0 680.0,749.0 675.5,748.2 678.0,749.5 681.5,750.2 683.5,749.2 686.5,749.5 689.0,751.0 691.0,753.5 693.5,756.0 694.5,759.0 695.0,762.0 695.5,765.0 696.0,767.5 697.5,769.5 700.0,770.5"/>
<path d="M664.0,709.5 663.5,711.5 664.5,713.5 662.0,713.8 661.0,715.5 661.5,717.5 663.5,719.5 661.0,719.5 659.0,720.0 658.2,722.0 658.5,724.5 659.5,725.5 658.0,726.0 657.5,727.2 658.5,728.5 659.5,730.0 659.5,732.0 658.5,734.0 657.5,735.5 658.5,736.8 657.5,735.5 656.5,737.0 655.0,737.8 653.8,739.8 653.2,741.0 654.5,742.0 654.0,743.5 653.2,744.8 655.0,745.2 657.5,744.5 658.5,742.0 659.0,741.2 661.0,739.8 663.0,737.8 661.5,740.5 660.5,743.5 660.0,747.0 659.2,751.5 659.0,754.0 658.8,757.0 658.0,759.0 659.0,759.8 659.8,758.5 661.0,756.5 662.0,755.0 662.5,756.5 663.5,758.0 664.0,756.5 663.5,755.0 662.0,753.5 661.5,751.5 663.0,749.0 664.5,746.0 663.5,748.0 663.0,750.0 666.0,748.0 666.5,747.5 666.0,749.5 668.5,750.2 666.0,750.5 665.5,752.0 665.5,754.0 667.0,755.5 667.5,757.5 666.5,759.5 665.5,761.5 664.5,763.5 663.8,764.5 663.2,766.0 664.0,768.0 665.5,769.5 665.0,768.0 666.5,767.2 668.5,768.5 670.5,767.5 673.0,768.2 675.0,767.0 677.0,766.0 679.5,766.0 678.0,767.5 676.8,770.0 676.8,772.5 678.0,775.0 680.0,777.0 683.0,777.0 683.5,779.5 681.5,781.5 681.5,783.5 682.2,785.0"/>
<path d="M654.0,709.2 654.5,711.0 653.8,714.0 652.5,715.8 652.8,717.2 651.0,719.0 649.2,720.5 648.0,719.5 647.0,718.0 646.5,715.5 647.2,714.0 649.5,714.5 649.5,712.5 651.5,711.0Z"/>
<path d="M642.8,724.0 644.0,723.2 646.2,723.5 646.5,725.0 645.0,725.5 643.2,724.8Z"/>
<path d="M643.5,728.0 644.8,727.5 645.5,729.5 645.2,732.0 644.2,732.0 643.5,730.0Z"/>
<path d="M642.2,734.5 643.5,734.0 644.0,734.8 642.8,734.8Z"/>
<path d="M649.5,727.0 651.5,724.5 653.5,723.2 654.8,724.5 654.5,727.0 654.8,729.0 656.5,729.5 658.0,730.0 657.5,731.5 656.5,733.0 655.5,732.0 655.0,731.0 653.0,730.5 652.0,729.0 650.5,728.2Z"/>
<path d="M652.2,733.5 653.5,733.2 653.8,734.5 652.5,734.5Z"/>
<path d="M652.0,751.5 654.0,750.5 656.5,749.5 658.0,748.0 658.5,750.0 657.0,752.0 655.5,753.5 655.0,755.5 653.5,755.5 652.0,754.0 651.5,752.5Z"/>
<path d="M650.2,740.0 651.5,739.4"/>
<path d="M666.5,778.0 668.5,774.5 670.0,773.5 670.5,775.5 669.0,778.0 667.0,778.8Z"/>
<path d="M621.6,775.4 625.2,774.8 628.2,775.7 629.4,776.3 631.2,775.7 633.6,775.7 633.9,774.2 636.0,772.7 637.2,772.4 639.6,770.9 640.2,769.4 637.2,770.3 633.6,770.0 632.4,769.1 634.8,767.0 635.4,764.9 636.0,762.8 638.4,761.6 641.4,761.0 643.2,760.4 644.4,759.5 645.6,759.8 647.4,761.3 649.2,761.6 652.2,761.0 655.2,761.3 656.4,764.0 657.6,767.0 658.5,769.4 659.4,770.6 660.0,772.4 659.4,774.8 657.6,776.6 655.8,778.4 654.0,779.0 653.4,780.2 654.0,783.2 654.9,786.8 655.5,791.0 655.5,795.8 654.6,799.4 653.4,802.4 652.2,804.2 650.4,805.1 646.0,806.0 643.0,807.0 641.0,809.0 639.0,810.0 637.0,810.5 635.8,809.8 635.5,811.5 634.0,812.5 631.0,814.0 627.0,815.2 623.5,815.5 624.0,814.8 625.0,813.0 623.0,812.0 624.5,810.0 622.8,810.5 621.0,811.5 618.5,810.5 618.6,809.6 619.8,808.4 621.0,807.2 619.2,806.6 618.6,805.4 619.8,804.2 622.8,804.8 622.5,803.0 622.8,801.2 625.2,800.6 628.2,799.4 631.2,798.2 627.6,798.8 624.0,799.4 622.2,800.0 624.0,798.8 625.8,797.0 626.4,794.6 627.3,792.5 628.8,791.9 630.0,791.3 627.6,790.7 625.8,790.4 624.0,789.8 622.2,789.2 620.7,788.0 621.0,786.2 622.5,785.0 622.8,783.2 624.6,782.0 622.8,781.4 621.6,780.2 619.8,779.6 621.6,777.8 620.7,776.0 621.6,775.4"/>
<path class="b" d="M642.3,764.0 643.2,767.0 640.8,769.1 638.4,771.2 637.2,772.4 639.0,775.4 642.0,777.5 644.4,777.8 645.6,775.4 646.8,773.6 648.0,774.2 649.2,776.6 651.0,778.7 653.4,779.0"/>
<path d="M642.0,762.8 643.2,760.7 645.0,759.7 647.1,761.3 645.6,763.4 643.2,764.6Z"/>
<path d="M663.0,766.0 664.0,768.0 665.0,769.2 665.5,768.0 667.5,767.5 669.0,768.2 671.0,767.2 673.0,768.0 675.0,766.8 676.5,766.0"/>
<path d="M679.5,766.0 678.0,767.5 677.0,770.0 676.8,772.0 677.5,774.0 679.0,776.0 680.5,777.2 683.0,777.0 683.5,778.5 682.5,780.5 681.2,781.8 681.5,783.5 682.0,784.0 681.5,785.5 681.2,788.0 680.5,789.5 684.0,789.5 681.5,788.5 680.0,789.0 677.5,789.0 675.0,789.5 673.2,790.2 671.5,792.0 670.0,793.5 667.5,796.2 670.0,795.5 672.0,795.2 672.5,797.5 672.5,800.0 673.0,801.0 672.0,803.5 670.5,805.0 668.0,806.0 665.0,807.5 662.5,809.0 662.5,811.0 664.0,813.0 665.5,813.5 668.5,811.5 671.0,812.5 672.5,813.5 674.5,814.5 675.0,815.0 677.3,816.3 680.0,816.0 682.7,814.3 686.7,812.0 684.0,815.3 681.3,818.7 678.0,819.0 673.3,819.0 670.7,820.7 668.7,822.7 668.0,824.7 665.3,828.0 662.7,830.7 660.0,833.0 659.5,833.5 663.0,835.5 665.3,832.7 668.7,830.7 672.0,830.0 674.7,832.0 676.0,832.7 678.0,828.0 680.7,826.0 683.3,825.7 686.0,827.3 690.0,827.3 692.0,825.3 694.7,824.7 700.0,825.3 704.0,824.3 708.0,825.0 713.3,823.3 717.3,821.3 715.0,822.5 717.0,821.0 719.5,819.5 720.2,817.5 719.0,816.5 716.5,817.0 714.0,817.0 713.0,815.8 711.2,815.5 713.0,814.5 715.0,814.0 715.0,812.0 716.0,811.0 717.5,810.5 718.5,809.0 720.0,808.0 721.5,806.5 722.5,804.0 723.2,801.0 722.5,798.0 720.0,796.0 717.0,794.8 714.0,794.5 712.0,795.0 710.5,796.5 709.0,796.0"/>
<path d="M696.3,823.3 697.3,825.3 696.0,827.3 694.3,826.3 694.7,824.7Z"/>
<path d="M668.2,788.5 669.8,787.8 672.0,789.2 673.2,790.2 671.5,791.5 669.5,791.2 668.2,790.0Z"/>
<path d="M696.0,766.0 696.5,768.0 698.0,770.0 701.0,771.5 702.5,773.0 704.0,775.0 706.5,777.5 706.2,780.0 707.0,782.0 708.0,784.0 708.2,786.0 707.0,785.0 705.0,783.8 702.5,783.5 705.0,784.0 707.0,785.5 708.5,787.0 709.5,788.0 710.5,790.0 710.8,792.0 709.5,794.0 709.0,796.0 710.0,796.5 710.5,796.5"/>
</g>
<g class="grid">
<path d="M279.5,333.5H951.5M279.5,477.5H951.5M279.5,591.5H951.5M279.5,684.5H951.5M279.5,765.5H951.5M279.5,836.5H951.5M362.5,321.5V890.5M449.5,321.5V890.5M535.5,321.5V890.5M621.5,321.5V890.5M708.5,321.5V890.5M794.5,321.5V890.5M881.5,321.5V890.5"/>
</g>
<g id="volc">
<line x1="529.4" y1="611.5" x2="547.9" y2="611.5" stroke="#000" stroke-width="2.3"/>
<path fill="#9fcfff" d="M539.8,593.2 542.8,593.2 543.7,595.2 543.7,598 544.5,600.2 544.8,602.2 544,605 543.7,607.8 543.1,609.2 541.2,610.6 540.9,613.4 540,615.1 539.2,616.2 538.6,617.9 537.8,617.1 537,615.6 536.4,613.4 535.8,610.6 535.8,605 535.8,601.6 536.4,601.1 539.2,601.1 539.2,596.6Z"/>
<path fill="#ff9900" d="M540,597.7 542.6,596.3 543.1,598 543.1,601.6 543.5,604.2 542.6,606.7 541.4,609.2 540.9,612.3 539.8,613.4 538.4,614 537,612.6 536.1,610.6 535.8,606.7 536.1,602.8 537.2,601.4 539.2,600.8 539.8,599.4Z"/>
<path fill="#ff2a00" d="M539.2,601.1 542.3,601.4 542.8,603 542,606.7 540.6,610 539.8,612.3 538.6,613.1 537.2,612.3 536.4,610.3 536.1,606.7 537.2,603 538.1,601.6Z"/>
<path fill="#aa00aa" d="M539.2,601.4 541.4,601.6 541.7,603.9 540.9,606.7 540,608.9 539.2,610.6 538.1,611.4 537,610.6 536.4,607.8 537.2,605 538.1,603Z"/>
<g stroke="#000" fill="none" stroke-linecap="round">
<line x1="533.3" y1="600" x2="543.7" y2="600" stroke-width="1.4"/>
<line x1="533.3" y1="600.2" x2="529.7" y2="610.8" stroke-width="1.4"/>
<line x1="543.6" y1="600.2" x2="547.6" y2="610.8" stroke-width="1.4"/>
<line x1="530.9" y1="593.5" x2="533.3" y2="599.7" stroke-width="1.7"/>
<line x1="538.5" y1="593.5" x2="538.5" y2="599.5" stroke-width="1.6"/>
<line x1="546.1" y1="593.5" x2="543.7" y2="599.5" stroke-width="1.7"/>
</g>
</g>
<rect x="279.5" y="321.5" width="672" height="569" fill="none" stroke="#000" stroke-width="1.1"/>
<!-- AXIS LABELS -->
<g class="ax">
<text x="362.2" y="310" text-anchor="middle">40°W</text>
<text x="449.2" y="310" text-anchor="middle">30°W</text>
<text x="535.2" y="310" text-anchor="middle">20°W</text>
<text x="621.2" y="310" text-anchor="middle">10°W</text>
<text x="708.2" y="310" text-anchor="middle">0°</text>
<text x="794.2" y="310" text-anchor="middle">10°E</text>
<text x="881.2" y="310" text-anchor="middle">20°E</text>
<text x="362.2" y="912.5" text-anchor="middle">40°W</text>
<text x="449.2" y="912.5" text-anchor="middle">30°W</text>
<text x="535.2" y="912.5" text-anchor="middle">20°W</text>
<text x="621.2" y="912.5" text-anchor="middle">10°W</text>
<text x="708.2" y="912.5" text-anchor="middle">0°</text>
<text x="794.2" y="912.5" text-anchor="middle">10°E</text>
<text x="881.2" y="912.5" text-anchor="middle">20°E</text>
<text x="273" y="338.4" text-anchor="end">75°N</text>
<text x="273" y="482.4" text-anchor="end">70°N</text>
<text x="273" y="596.4" text-anchor="end">65°N</text>
<text x="273" y="689.4" text-anchor="end">60°N</text>
<text x="273" y="770.4" text-anchor="end">55°N</text>
<text x="273" y="841.4" text-anchor="end">50°N</text>
<text x="958" y="338.4">75°N</text>
<text x="958" y="482.4">70°N</text>
<text x="958" y="596.4">65°N</text>
<text x="958" y="689.4">60°N</text>
<text x="958" y="770.4">55°N</text>
<text x="958" y="841.4">50°N</text>
</g>
<text class="t3" x="60.2" y="974.5">© Met Office Crown Copyright</text>
</svg>
</body></html>
